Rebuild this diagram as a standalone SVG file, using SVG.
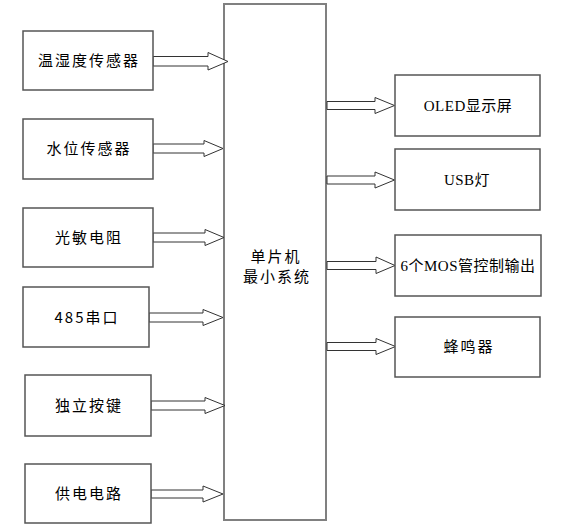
<svg xmlns="http://www.w3.org/2000/svg" width="576" height="525" viewBox="0 0 576 525">
<style>
.box{fill:#fff;stroke:#555;stroke-width:1.5}
.mcu{fill:#fff;stroke:#808080;stroke-width:2}
.arr{fill:#fff;stroke:#333;stroke-width:1;stroke-linejoin:miter}
.t{font-family:"Noto Sans CJK SC","Liberation Sans",sans-serif;font-size:15px;fill:#000;text-anchor:middle;letter-spacing:2px}
.s{font-family:"Liberation Serif","Noto Sans CJK SC",serif}
</style>
<rect width="576" height="525" fill="#fff"/>
<g id="mcu">
<rect class="mcu" x="224" y="4" width="102" height="516"/>
<text class="t" x="276" y="262">单片机</text>
<text class="t" x="277" y="282">最小系统</text>
</g>
<g id="connectors">
<path class="arr" d="M153,56.5H208V52.5L228,61.5L208,70V66H153Z"/>
<path class="arr" d="M153,144H204V140.5L223,148.5L204,156.5V153H153Z"/>
<path class="arr" d="M153,233H205V229.5L224,237.5L205,245.5V242H153Z"/>
<path class="arr" d="M149,313H203V309.5L223,317.5L203,325.5V322H149Z"/>
<path class="arr" d="M151,401H205V397.5L225,405.5L205,413.5V410H151Z"/>
<path class="arr" d="M151,490H203V486L223,494L203,502V498H151Z"/>
<path class="arr" d="M327,101.5H375V97.5L394.5,105.5L375,113.5V109.5H327Z"/>
<path class="arr" d="M327,176H375V172L394.5,180L375,188V184H327Z"/>
<path class="arr" d="M327,261.5H376V257L395,265.5L376,273.5V269.5H327Z"/>
<path class="arr" d="M327,342.5H376V338.5L395.5,346.5L376,354.5V350.5H327Z"/>
</g>
<g id="n1"><rect class="box" x="23" y="31" width="130" height="59"/><text class="t" x="89" y="66">温湿度传感器</text></g>
<g id="n2"><rect class="box" x="23" y="119" width="130" height="60"/><text class="t" x="89" y="154">水位传感器</text></g>
<g id="n3"><rect class="box" x="23" y="208" width="130" height="59"/><text class="t" x="89" y="243">光敏电阻</text></g>
<g id="n4"><rect class="box" x="23" y="287" width="126" height="60"/><text class="t" x="87" y="323">485串口</text></g>
<g id="n5"><rect class="box" x="25" y="375" width="126" height="61"/><text class="t" x="89" y="411">独立按键</text></g>
<g id="n6"><rect class="box" x="25" y="464" width="126" height="59"/><text class="t" x="89" y="499">供电电路</text></g>
<g id="r1"><rect class="box" x="395" y="75" width="145" height="61"/><text class="t" x="468" y="111" style="letter-spacing:0.5px"><tspan class="s">OLED</tspan>显示屏</text></g>
<g id="r2"><rect class="box" x="395" y="149" width="145" height="61"/><text class="t" x="467" y="185" style="letter-spacing:0.5px"><tspan class="s">USB</tspan>灯</text></g>
<g id="r3"><rect class="box" x="395" y="235" width="146" height="61"/><text class="t" x="468" y="271" style="letter-spacing:0.5px"><tspan class="s">6</tspan>个<tspan class="s">MOS</tspan>管控制输出</text></g>
<g id="r4"><rect class="box" x="395" y="317" width="145" height="60"/><text class="t" x="469" y="352">蜂鸣器</text></g>
</svg>
